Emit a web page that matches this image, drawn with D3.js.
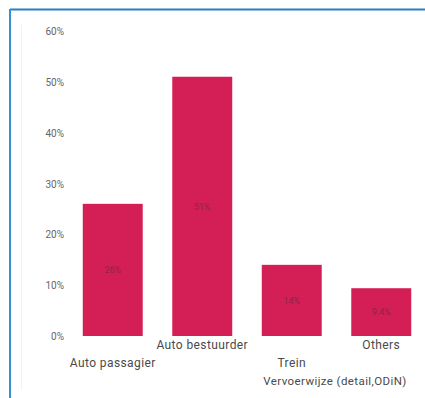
<!DOCTYPE html>
<html>
<head>
<meta charset="utf-8">
<script src="https://cdn.jsdelivr.net/npm/d3@7"></script>
<style>
  html, body { margin: 0; padding: 0; background: #fff; }
  svg { display: block; }
</style>
</head>
<body>
<svg id="chart" width="425" height="398"></svg>
<script>
// Share of trips per travel mode
const categories = ["Auto passagier", "Auto bestuurder", "Trein", "Others"];
const shares = [26, 51, 14, 9.4];
const valueLabels = ["26%", "51%", "14%", "9.4%"];
const yTicks = [0, 10, 20, 30, 40, 50, 60];
const axisTitle = "Vervoerwijze (detail,ODiN)";

const svg = d3.select("#chart");
const font = "Roboto, 'Noto Sans', sans-serif";

// Panel frame: blue rule along top and left
svg.append("line").attr("x1", 10).attr("x2", 425).attr("y1", 9.5).attr("y2", 9.5)
  .attr("stroke", "#2b7fbf").attr("stroke-width", 2);
svg.append("line").attr("x1", 10).attr("x2", 10).attr("y1", 9).attr("y2", 398)
  .attr("stroke", "#3a8fd0").attr("stroke-width", 2);
// faint inner guide
svg.append("line").attr("x1", 21.5).attr("x2", 21.5).attr("y1", 25).attr("y2", 390)
  .attr("stroke", "#f2f2f2").attr("stroke-width", 1);

const x = d3.scaleBand().domain(categories).range([68, 426])
  .paddingInner(0.33).paddingOuter(0.165);
const y = d3.scaleLinear().domain([0, 60]).range([336, 31]);

// y axis labels only
const yAxis = d3.axisLeft(y).tickValues(yTicks).tickFormat(d => d + "%").tickSize(0).tickPadding(0);
const gy = svg.append("g").attr("transform", "translate(64,0)").call(yAxis);
gy.select(".domain").remove();
gy.selectAll("text").attr("font-family", font).attr("font-size", 10)
  .attr("fill", "#666").attr("dy", "0.35em");

// bars
svg.append("g").selectAll("rect").data(categories).join("rect")
  .attr("x", d => x(d))
  .attr("width", x.bandwidth())
  .attr("y", (d, i) => y(shares[i]))
  .attr("height", (d, i) => y(0) - y(shares[i]))
  .attr("fill", "#d41f56");

// value labels centered in bars
svg.append("g").selectAll("text").data(categories).join("text")
  .attr("x", d => x(d) + x.bandwidth() / 2)
  .attr("y", (d, i) => (y(shares[i]) + y(0)) / 2)
  .attr("dy", "0.35em")
  .attr("text-anchor", "middle")
  .attr("font-family", font).attr("font-size", 9)
  .attr("fill", "#8e2446")
  .text((d, i) => valueLabels[i]);

// staggered category labels
const xAxis = d3.axisBottom(x).tickSize(0).tickPadding(0);
const gx = svg.append("g").attr("transform", "translate(0,336)").call(xAxis);
gx.select(".domain").remove();
gx.selectAll("text")
  .attr("font-family", font).attr("font-size", 12).attr("fill", "#4a4a4a")
  .attr("dy", null)
  .attr("y", (d, i) => i % 2 === 0 ? 31 : 13)
  .attr("letter-spacing", 0.4);

// axis title
svg.append("text")
  .attr("x", 335).attr("y", 385)
  .attr("text-anchor", "middle")
  .attr("font-family", font).attr("font-size", 11.5)
  .attr("fill", "#4a4a4a")
  .attr("letter-spacing", 0.4)
  .text(axisTitle);
</script>
</body>
</html>
